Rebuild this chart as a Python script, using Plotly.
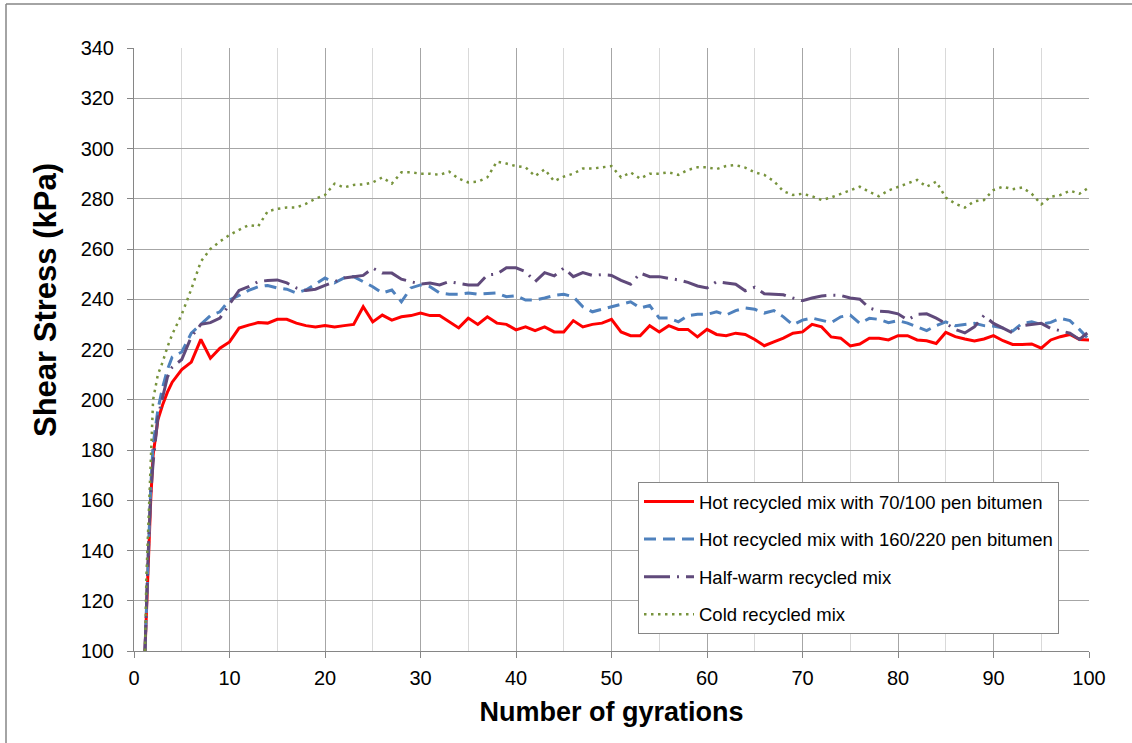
import plotly.graph_objects as go

# Gyration numbers (x)
gyrations = [1.15, 1.3, 1.5, 1.75, 2, 2.5, 3, 3.5] + list(range(4, 101))

hot_70_100 = [100, 116, 137, 160, 178, 192, 198, 203,
              207, 212, 215, 224, 216.5, 220.5, 223,            # 4-10
              228.5, 229.7, 230.7, 230.5, 232, 232, 230.5, 229.5, 229, 229.5,   # 11-20
              229, 229.5, 230, 237, 231, 233.7, 231.7, 233, 233.5, 234.5,       # 21-30
              233.5, 233.5, 231, 228.6, 232.5, 230, 233, 230.5, 230, 227.8,     # 31-40
              229, 227.5, 229, 227, 227, 231.5, 229, 230, 230.5, 232,           # 41-50
              227, 225.5, 225.5, 229.5, 227, 229.5, 228, 228, 225, 228,         # 51-60
              226, 225.5, 226.5, 226, 224, 221.5, 223, 224.5, 226.5, 227,       # 61-70
              230, 229, 225, 224.5, 221.4, 222.2, 224.5, 224.5, 223.8, 225.5,   # 71-80
              225.5, 223.8, 223.5, 222.4, 226.8, 225.1, 224.2, 223.4, 224.2, 225.5,  # 81-90
              223.5, 222, 222, 222.2, 220.5, 223.8, 225.1, 226, 224, 223.8]     # 91-100

hot_160_220 = [100, 118, 140, 165, 182, 196, 205, 212,
               217, 219, 226.5, 230, 233.5, 235, 239.7,
               241.5, 243.5, 245, 245.5, 244.5, 244, 242.5, 243.7, 246, 248.5,
               246.5, 248.5, 249, 247, 245, 242.5, 243.7, 239, 244.5, 245.7,
               245, 242.5, 242, 242, 242.5, 242, 242.3, 242.5, 241, 241.4,
               239.7, 239.7, 240.5, 241.5, 242, 241, 237, 235, 236, 237,
               238, 239, 236.5, 237.5, 232.5, 232.5, 231, 233.5, 234, 234,
               235, 233.7, 235.5, 236.5, 236, 234.5, 235.5, 233, 229.8, 231.7,
               232.5, 231.7, 230.7, 233, 233.7, 230.4, 232.4, 232, 230.7, 231.5,
               230.5, 229, 227.5, 229.5, 231, 229.5, 230, 230.4, 229.5, 229.3,
               228.5, 227.3, 230.4, 231, 230, 230.8, 232.4, 231.5, 228, 224]

half_warm = [100, 118, 140, 162, 175, 193, 201, 209,
             213, 216, 225, 230, 230.7, 232.5, 238,
             243.5, 245, 247, 247.5, 247.7, 246.5, 244.5, 243.5, 244, 245.5,
             247, 248.5, 249, 249.5, 252.4, 250.4, 250.4, 248, 247, 246,
             246.5, 245.7, 247, 246.5, 245.7, 245.7, 249.7, 250, 252.5, 252.5,
             251, 247, 250.6, 249.3, 252.4, 249, 250.6, 249.5, 249.8, 249.5,
             247.5, 246, 250.4, 249, 249, 248.3, 247.7, 246.7, 245.3, 244.5,
             247, 246.5, 246, 243.4, 244.8, 242.2, 242, 241.8, 240.5, 239.4,
             240.5, 241.3, 241.6, 241.5, 240.5, 240, 236.5, 235.3, 235, 234.2,
             231.8, 234, 234.2, 232.5, 230.4, 228, 226.6, 229, 233.5, 230.4,
             228.5, 226.6, 229.5, 230, 230.4, 228.4, 227.4, 226.5, 224, 227.1]

cold = [100, 130, 150, 175, 200, 210, 215, 221,
        226, 234, 244, 255, 260, 263, 265.6,
        267.6, 269.5, 269, 275, 276, 276.5, 276.5, 278, 280, 281.5,
        286, 284.5, 285.5, 285.7, 286.5, 288.5, 286, 290.5, 290.5, 290,
        290, 289.5, 290.8, 288, 286.5, 286.8, 288.5, 294.8, 294, 293,
        292.5, 289, 291.7, 287, 288.8, 290, 292, 292, 292.5, 293,
        288.5, 290.5, 288, 290, 290, 290.5, 289.5, 291.5, 292.5, 292.5,
        291.8, 293, 293.4, 292.4, 290.5, 289.5, 287, 283, 281.5, 282,
        281, 279.5, 280.5, 282, 283.5, 284.8, 282.7, 281, 283.3, 284.8,
        286, 287.5, 284.8, 286.8, 280.5, 278, 276.5, 279, 279.5, 283.5,
        284.8, 283.8, 284.5, 282, 277.8, 280.8, 281.5, 283.2, 282, 284.5]

series_names = ["Hot recycled mix with 70/100 pen bitumen",
                "Hot recycled mix with 160/220 pen bitumen",
                "Half-warm recycled mix",
                "Cold recycled mix"]

x_ticks = [0, 10, 20, 30, 40, 50, 60, 70, 80, 90, 100]
y_ticks = [100, 120, 140, 160, 180, 200, 220, 240, 260, 280, 300, 320, 340]

for s in (hot_70_100, hot_160_220, half_warm, cold):
    assert len(s) == len(gyrations), len(s)

styles = [
    dict(color="#FF0000", width=3, dash="solid"),
    dict(color="#4F81BD", width=3, dash="12px,7px"),
    dict(color="#604A7B", width=3, dash="26px,7px,2px,7px"),
    dict(color="#77933C", width=2.5, dash="2.5px,4.5px"),
]

fig = go.Figure()
for i, (name, vals) in enumerate(zip(series_names, [hot_70_100, hot_160_220, half_warm, cold])):
    fig.add_trace(go.Scatter(x=gyrations, y=vals, mode="lines", name=name,
                             line=styles[i], legendgroup=f"g{i}"))

W, H = 1132, 743
L, R, T, B = 134, 43, 48, 92
pw, ph = W - L - R, H - T - B

def px_to_paper_x(px):
    return (px - L) / pw

def px_to_paper_y(py):
    return (H - B - py) / ph

fig.update_layout(
    width=W, height=H,
    margin=dict(l=L, r=R, t=T, b=B),
    paper_bgcolor="white", plot_bgcolor="white",
    font=dict(family="Liberation Sans, Arial, sans-serif", color="#000000"),
    showlegend=True,
    legend=dict(
        x=px_to_paper_x(638), y=px_to_paper_y(482), xanchor="left", yanchor="top",
        bgcolor="white", bordercolor="#868686", borderwidth=1,
        font=dict(size=18.5, family="Liberation Sans, Arial, sans-serif"),
        tracegroupgap=10.5, traceorder="grouped", itemwidth=50,
    ),
    xaxis=dict(
        range=[0, 100], tickvals=x_ticks, ticks="outside", ticklen=6, tickcolor="#868686",
        showline=True, linecolor="#868686", linewidth=1,
        showgrid=True, gridcolor="#A6A6A6", gridwidth=1, zeroline=False,
        minor=dict(dtick=5, showgrid=True, gridcolor="#D9D9D9", gridwidth=1),
        tickfont=dict(size=20), ticklabelstandoff=3,
        title=dict(text="<b>Number of gyrations</b>", font=dict(size=27), standoff=14),
    ),
    yaxis=dict(
        range=[100, 340], tickvals=y_ticks, ticks="outside", ticklen=6, tickcolor="#868686",
        showline=True, linecolor="#868686", linewidth=1,
        showgrid=True, gridcolor="#A6A6A6", gridwidth=1, zeroline=False,
        tickfont=dict(size=20), ticklabelstandoff=9,
    ),
    annotations=[
        dict(text="<b>Shear Stress (kPa)</b>", textangle=-90, showarrow=False,
             xref="paper", yref="paper", x=px_to_paper_x(45), y=px_to_paper_y(300),
             xanchor="center", yanchor="middle", font=dict(size=31)),
    ],
    shapes=[
        dict(type="line", xref="paper", yref="paper",
             x0=px_to_paper_x(6), x1=px_to_paper_x(6), y0=px_to_paper_y(4), y1=px_to_paper_y(760),
             line=dict(color="#868686", width=1.5)),
        dict(type="line", xref="paper", yref="paper",
             x0=px_to_paper_x(6), x1=px_to_paper_x(1150), y0=px_to_paper_y(4), y1=px_to_paper_y(4),
             line=dict(color="#868686", width=1.5)),
    ],
)

fig.write_html("out.html")
